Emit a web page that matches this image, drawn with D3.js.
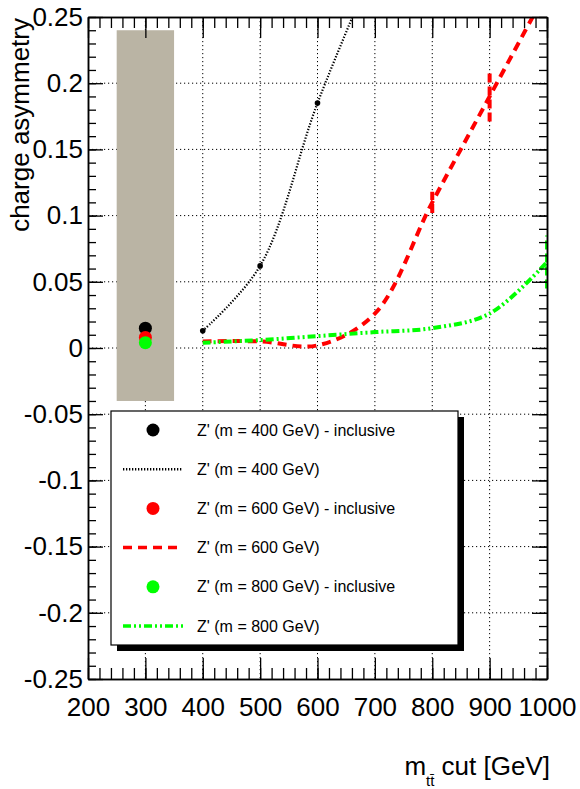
<!DOCTYPE html>
<html lang="en">
<head>
  <meta charset="UTF-8">
  <title>Charge asymmetry vs mtt cut</title>
  <script src="https://d3js.org/d3.v7.min.js"></script>
  <style>
    body {
      margin: 0;
      padding: 0;
      background: #ffffff;
      font-family: "Liberation Sans", Arial, Helvetica, sans-serif;
    }
    svg text { fill: #000; }
  </style>
</head>
<body>
  <svg id="chart" width="580" height="789"></svg>

  <script>
    // values
    const cutValues = [400, 500, 600, 700, 800, 900, 1000];
    const asym400 = [0.013, 0.062, 0.185, 0.29];
    const asym600 = [0.005, 0.005, 0.002, 0.026, 0.11, 0.19, 0.27];
    const asym800 = [0.004, 0.006, 0.009, 0.012, 0.015, 0.026, 0.065];
    const err600 = [0, 0, 0, 0, 0.008, 0.019, 0];
    const err800 = [0, 0, 0, 0, 0, 0, 0.02];

    const inclusiveX = 300;
    const inclusiveAsym = [0.015, 0.008, 0.004];   // 400, 600, 800 GeV
    const bandX = [250, 350];
    const bandY = [-0.04, 0.24];

    const xTicks = [200, 300, 400, 500, 600, 700, 800, 900, 1000];
    const yTicks = [-0.25, -0.2, -0.15, -0.1, -0.05, 0, 0.05, 0.1, 0.15, 0.2, 0.25];

    const legendLabels = [
      "Z' (m = 400 GeV) - inclusive",
      "Z' (m = 400 GeV)",
      "Z' (m = 600 GeV) - inclusive",
      "Z' (m = 600 GeV)",
      "Z' (m = 800 GeV) - inclusive",
      "Z' (m = 800 GeV)"
    ];

    const svg = d3.select("#chart");
    const fLeft = 88, fRight = 547, fTop = 17, fBottom = 679;

    const x = d3.scaleLinear().domain([200, 1000]).range([fLeft, fRight]);
    const y = d3.scaleLinear().domain([-0.25, 0.25]).range([fBottom, fTop]);

    svg.append("rect").attr("width", 580).attr("height", 789).attr("fill", "#fff");

    svg.append("defs").append("clipPath").attr("id", "frame")
      .append("rect")
      .attr("x", fLeft).attr("y", fTop)
      .attr("width", fRight - fLeft).attr("height", fBottom - fTop);

    // dotted grid
    const grid = svg.append("g")
      .attr("stroke", "#000")
      .attr("stroke-width", 1)
      .attr("stroke-dasharray", "1.2,2.8");
    grid.selectAll("line.gx")
      .data(xTicks.slice(1, -1))
      .join("line")
      .attr("x1", d => x(d)).attr("x2", d => x(d))
      .attr("y1", fTop).attr("y2", fBottom);
    grid.selectAll("line.gy")
      .data(yTicks.slice(1, -1))
      .join("line")
      .attr("y1", d => y(d)).attr("y2", d => y(d))
      .attr("x1", fLeft).attr("x2", fRight);

    // inclusive band
    svg.append("rect")
      .attr("x", x(bandX[0]))
      .attr("y", y(bandY[1]))
      .attr("width", x(bandX[1]) - x(bandX[0]))
      .attr("height", y(bandY[0]) - y(bandY[1]))
      .attr("fill", "#bab4a4");

    const plot = svg.append("g").attr("clip-path", "url(#frame)");

    const line = d3.line()
      .x(d => x(d[0]))
      .y(d => y(d[1]))
      .curve(d3.curveCatmullRom.alpha(0.5));

    const series = [
      { vals: asym400, err: null, color: "#000", width: 2.2, dash: "1.3,1.7" },
      { vals: asym600, err: err600, color: "#ff0000", width: 4, dash: "9,6" },
      { vals: asym800, err: err800, color: "#00ff00", width: 4, dash: "8,3,2,3,2,3" }
    ];

    series.forEach(s => {
      const pts = s.vals.map((v, i) => [cutValues[i], v]);
      plot.append("path")
        .datum(pts)
        .attr("d", line)
        .attr("fill", "none")
        .attr("stroke", s.color)
        .attr("stroke-width", s.width)
        .attr("stroke-dasharray", s.dash);
      if (s.err) {
        const bars = pts.map((p, i) => [p[0], p[1], s.err[i]]).filter(d => d[2] > 0);
        plot.selectAll(null)
          .data(bars)
          .join("line")
          .attr("x1", d => x(d[0])).attr("x2", d => x(d[0]))
          .attr("y1", d => y(d[1] - d[2])).attr("y2", d => y(d[1] + d[2]))
          .attr("stroke", s.color)
          .attr("stroke-width", s.width)
          .attr("stroke-dasharray", "9,4");
      }
    });

    // small markers on the 400 GeV curve
    plot.selectAll("circle.m400")
      .data(asym400.map((v, i) => [cutValues[i], v]))
      .join("circle")
      .attr("cx", d => x(d[0]))
      .attr("cy", d => y(d[1]))
      .attr("r", 2.8)
      .attr("fill", "#000");

    // inclusive points
    const inclColors = ["#000", "#ff0000", "#00ff00"];
    svg.selectAll("circle.incl")
      .data(inclusiveAsym)
      .join("circle")
      .attr("cx", x(inclusiveX))
      .attr("cy", d => y(d))
      .attr("r", 6.5)
      .attr("fill", (d, i) => inclColors[i]);

    // axes, ROOT style ticks inside the frame
    const axStyle = g => {
      g.select(".domain").attr("stroke", "#000").attr("stroke-width", 1.5);
      g.selectAll(".tick line").attr("stroke", "#000").attr("stroke-width", 1.3);
      g.selectAll("text")
        .attr("font-family", "'Liberation Sans', Arial, sans-serif")
        .attr("font-size", 26)
        .attr("fill", "#000");
    };
    const xMinor = d3.range(200, 1001, 20);
    const yMinor = d3.range(-25, 26, 1).map(v => v / 100);

    svg.append("g").attr("transform", `translate(0,${fBottom})`)
      .call(d3.axisBottom(x).tickValues(xMinor).tickSize(-11).tickSizeOuter(0).tickFormat(""))
      .call(axStyle);
    svg.append("g").attr("transform", `translate(0,${fBottom})`)
      .call(d3.axisBottom(x).tickValues(xTicks).tickSize(-21).tickSizeOuter(0).tickPadding(19).tickFormat(d3.format("d")))
      .call(axStyle);
    svg.append("g").attr("transform", `translate(0,${fTop})`)
      .call(d3.axisTop(x).tickValues(xMinor).tickSize(-11).tickSizeOuter(0).tickFormat(""))
      .call(axStyle);
    svg.append("g").attr("transform", `translate(0,${fTop})`)
      .call(d3.axisTop(x).tickValues(xTicks).tickSize(-21).tickSizeOuter(0).tickFormat(""))
      .call(axStyle);

    svg.append("g").attr("transform", `translate(${fLeft},0)`)
      .call(d3.axisLeft(y).tickValues(yMinor).tickSize(-8).tickSizeOuter(0).tickFormat(""))
      .call(axStyle);
    svg.append("g").attr("transform", `translate(${fLeft},0)`)
      .call(d3.axisLeft(y).tickValues(yTicks).tickSize(-15).tickSizeOuter(0).tickPadding(5).tickFormat(d => String(+d.toFixed(2))))
      .call(axStyle);
    svg.append("g").attr("transform", `translate(${fRight},0)`)
      .call(d3.axisRight(y).tickValues(yMinor).tickSize(-8).tickSizeOuter(0).tickFormat(""))
      .call(axStyle);
    svg.append("g").attr("transform", `translate(${fRight},0)`)
      .call(d3.axisRight(y).tickValues(yTicks).tickSize(-15).tickSizeOuter(0).tickFormat(""))
      .call(axStyle);

    // axis titles
    svg.append("text")
      .attr("transform", `translate(29,${fTop + 1}) rotate(-90)`)
      .attr("text-anchor", "end")
      .attr("font-size", 26)
      .text("charge asymmetry");

    const xt = svg.append("text")
      .attr("x", 550).attr("y", 775)
      .attr("text-anchor", "end")
      .attr("font-size", 26);
    xt.append("tspan").text("m");
    xt.append("tspan").attr("font-size", 15).attr("dy", 11).text("tt\u0304");
    xt.append("tspan").attr("dy", -11).text(" cut [GeV]");

    // legend
    const lg = svg.append("g");
    const lgX = 111, lgY = 411, lgW = 347, lgH = 234;
    lg.append("rect")
      .attr("x", lgX + 6).attr("y", lgY + 6)
      .attr("width", lgW).attr("height", lgH)
      .attr("fill", "#000");
    lg.append("rect")
      .attr("x", lgX).attr("y", lgY)
      .attr("width", lgW).attr("height", lgH)
      .attr("fill", "#fff")
      .attr("stroke", "#000")
      .attr("stroke-width", 1.2);

    const rowY = d3.scaleLinear().domain([0, 5]).range([430, 626]);
    legendLabels.forEach((label, i) => {
      const s = series[Math.floor(i / 2)];
      const cy = rowY(i);
      if (i % 2 === 0) {
        lg.append("circle")
          .attr("cx", 153).attr("cy", cy).attr("r", 6.5)
          .attr("fill", s.color);
      } else {
        lg.append("line")
          .attr("x1", 123).attr("x2", 183)
          .attr("y1", cy).attr("y2", cy)
          .attr("stroke", s.color)
          .attr("stroke-width", s.width === 4 ? 3.5 : 2.5)
          .attr("stroke-dasharray", s.dash);
      }
      lg.append("text")
        .attr("x", 197).attr("y", cy + 5.5)
        .attr("font-size", 16)
        .text(label);
    });
  </script>
</body>
</html>
